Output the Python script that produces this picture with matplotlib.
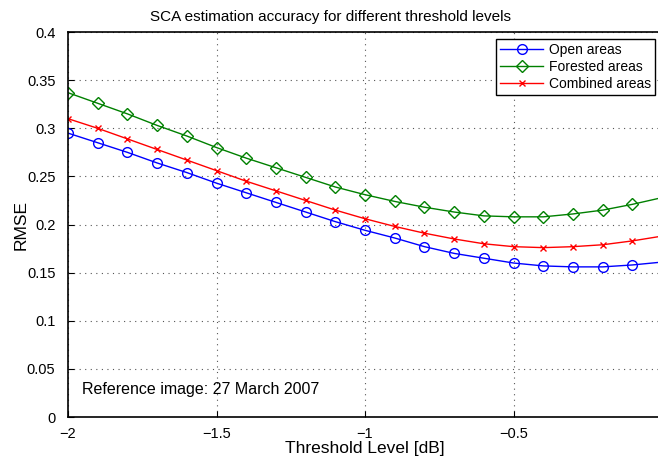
import numpy as np
import matplotlib.pyplot as plt

plt.rcParams['font.family'] = ['Liberation Sans', 'DejaVu Sans']

threshold = [-2.0, -1.9, -1.8, -1.7, -1.6, -1.5, -1.4, -1.3, -1.2, -1.1, -1.0,
             -0.9, -0.8, -0.7, -0.6, -0.5, -0.4, -0.3, -0.2, -0.1, 0.0]
open_areas = [0.295, 0.285, 0.275, 0.264, 0.254, 0.243, 0.233, 0.223, 0.213, 0.203, 0.194,
              0.186, 0.177, 0.170, 0.165, 0.160, 0.157, 0.156, 0.156, 0.158, 0.161]
forested_areas = [0.337, 0.326, 0.315, 0.303, 0.292, 0.280, 0.269, 0.259, 0.249, 0.239, 0.231,
                  0.224, 0.218, 0.213, 0.209, 0.208, 0.208, 0.211, 0.215, 0.221, 0.228]
combined_areas = [0.310, 0.300, 0.289, 0.278, 0.267, 0.256, 0.245, 0.235, 0.225, 0.215, 0.206,
                  0.198, 0.191, 0.185, 0.180, 0.177, 0.176, 0.177, 0.179, 0.183, 0.188]
labels = ["Open areas", "Forested areas", "Combined areas"]

fig = plt.figure(figsize=(6.58, 4.58), dpi=100)
ax = fig.add_axes([0.1033, 0.0895, 0.903, 0.8405])

marks = list(range(len(threshold) - 1))
ax.plot(threshold, open_areas, color="blue", marker="o", markersize=7, markerfacecolor="none",
        markeredgewidth=1, linewidth=1, markevery=marks, label=labels[0])
ax.plot(threshold, forested_areas, color="green", marker="D", markersize=6, markerfacecolor="none",
        markeredgewidth=1, linewidth=1, markevery=marks, label=labels[1])
ax.plot(threshold, combined_areas, color="red", marker="x", markersize=5,
        markeredgewidth=1, linewidth=1, markevery=marks, label=labels[2])

ax.set_xlim(-2, 0)
ax.set_ylim(0, 0.4)
ax.set_xticks([-2, -1.5, -1, -0.5])
ax.set_xticklabels(["\u22122", "\u22121.5", "\u22121", "\u22120.5"])
yt = np.arange(0, 0.41, 0.05)
ax.set_yticks(yt)
ax.set_yticklabels(["0", "0.05", "0.1", "0.15", "0.2", "0.25", "0.3", "0.35", "0.4"])
ax.tick_params(direction="in", labelsize=10.5, length=4)
ax.tick_params(axis="y", pad=9)
ax.tick_params(axis="x", pad=7)
ax.grid(True, linestyle=(0, (1, 4)), color="#555555", linewidth=0.8)
for s in ax.spines.values():
    s.set_linewidth(1.2)

fig.text(0.502, 0.955, "SCA estimation accuracy for different threshold levels",
         fontsize=11, ha="center", va="baseline")
ax.set_xlabel("Threshold Level [dB]", fontsize=12.5, labelpad=0)
ax.set_ylabel("RMSE", fontsize=12.5, va="center")
ax.yaxis.set_label_coords(-0.079, 0.5)

ax.text(0.024, 0.06, "Reference image: 27 March 2007", transform=ax.transAxes, fontsize=11.5)

leg = ax.legend(loc="upper right", fontsize=10, fancybox=False, framealpha=1,
                edgecolor="black", borderaxespad=0.5, handlelength=3.1,
                labelspacing=0.2, borderpad=0.3, handletextpad=0.4)
leg.get_frame().set_linewidth(1)

fig.savefig("out.png", dpi=100)
